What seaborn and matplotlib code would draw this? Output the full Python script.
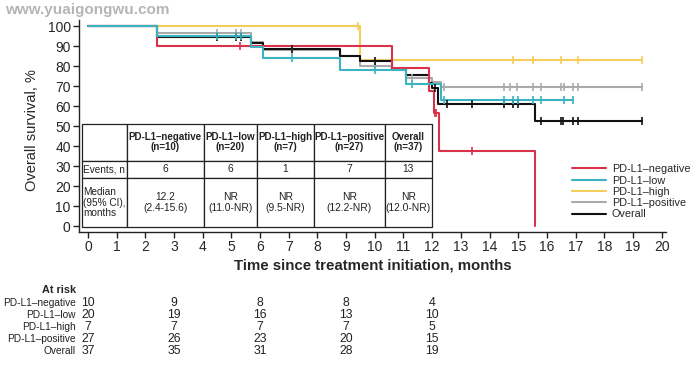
import numpy as np
import pandas as pd
import matplotlib
matplotlib.use('Agg')
import matplotlib.pyplot as plt
import matplotlib.transforms as mtransforms
import seaborn as sns

# Kaplan-Meier steps (time in months, survival in %)
groups = ['PD-L1–negative', 'PD-L1–low', 'PD-L1–high', 'PD-L1–positive', 'Overall']
colors = ['#d9334c', '#3bb3c0', '#f2cf5b', '#aaaaaa', '#111111']

neg_t = [0, 2.4, 10.6, 11.9, 12.05, 12.25, 15.6]
neg_s = [100, 90, 78.8, 67.5, 56.3, 37.5, 0]
neg_end = 15.6
neg_cens = [5.3, 12.1, 12.15, 13.4]

low_t = [0, 2.4, 5.7, 6.1, 8.8, 11.1, 12.3]
low_s = [100, 95, 89.4, 83.8, 78, 71, 63]
low_end = 16.9
low_cens = [4.5, 5.15, 5.35, 7.1, 10.0, 11.3, 12.4, 14.5, 14.8, 15.0, 15.5, 15.8, 16.6, 16.9]

high_t = [0, 9.5]
high_s = [100, 83]
high_end = 19.3
high_cens = [9.4, 14.8, 15.5, 16.5, 17.1, 19.3]

pos_t = [0, 2.4, 5.7, 6.1, 8.8, 9.5, 10.6, 11.1, 12.0, 12.3]
pos_s = [100, 96.3, 92.1, 87.9, 85, 80, 78, 74, 72, 69.5]
pos_end = 19.3
pos_cens = [4.5, 5.15, 5.35, 7.1, 10.0, 11.3, 12.4, 14.5, 14.7, 14.95, 15.5, 15.8,
            16.5, 16.6, 16.9, 17.1, 19.3]

all_t = [0, 2.4, 5.7, 6.1, 8.8, 9.5, 10.6, 11.1, 11.9, 12.0, 12.2, 15.6]
all_s = [100, 94.6, 91.6, 88.7, 85, 82.7, 78.7, 75.7, 71.3, 69, 61, 52.5]
all_end = 19.3
all_cens = [4.5, 5.15, 5.35, 7.1, 10.0, 12.1, 12.5, 13.4, 14.5, 14.8, 15.0, 15.8,
            16.5, 16.55, 16.9, 17.1, 19.3]

# summary table
table_header = ['', 'PD-L1–negative\n(n=10)', 'PD-L1–low\n(n=20)', 'PD-L1–high\n(n=7)',
                'PD-L1–positive\n(n=27)', 'Overall\n(n=37)']
table_events = ['Events, n', '6', '6', '1', '7', '13']
table_median = ['Median\n(95% CI),\nmonths', '12.2\n(2.4-15.6)', 'NR\n(11.0-NR)',
                'NR\n(9.5-NR)', 'NR\n(12.2-NR)', 'NR\n(12.0-NR)']

# numbers at risk
risk_times = [0, 3, 6, 9, 12]
risk_neg = [10, 9, 8, 8, 4]
risk_low = [20, 19, 16, 13, 10]
risk_high = [7, 7, 7, 7, 5]
risk_pos = [27, 26, 23, 20, 15]
risk_all = [37, 35, 31, 28, 19]

curves = {
    'PD-L1–negative': (neg_t, neg_s, neg_end, neg_cens),
    'PD-L1–low': (low_t, low_s, low_end, low_cens),
    'PD-L1–high': (high_t, high_s, high_end, high_cens),
    'PD-L1–positive': (pos_t, pos_s, pos_end, pos_cens),
    'Overall': (all_t, all_s, all_end, all_cens),
}
risk = [risk_neg, risk_low, risk_high, risk_pos, risk_all]


def step_at(t, times, surv):
    i = np.searchsorted(times, t, side='right') - 1
    return surv[max(i, 0)]


rows, cens_rows = [], []
for g, (t, s, end, cens) in curves.items():
    for a, b in zip(list(t) + [end], list(s) + [s[-1]]):
        rows.append((g, a, b))
    for c in cens:
        cens_rows.append((g, c, step_at(c, t, s)))
df = pd.DataFrame(rows, columns=['group', 'time', 'surv'])
cdf = pd.DataFrame(cens_rows, columns=['group', 'time', 'surv'])

sns.set_style('ticks')
plt.rcParams['font.family'] = ['Liberation Sans', 'DejaVu Sans']

fig = plt.figure(figsize=(6.96, 3.66), dpi=100)
ax = fig.add_axes([79 / 696, 1 - 232 / 366, 587 / 696, 212 / 366])

palette = dict(zip(groups, colors))
# teal sits on top, as in the original where it hides the overall curve early on
draw_order = ['PD-L1–high', 'PD-L1–positive', 'Overall', 'PD-L1–negative', 'PD-L1–low']
for g in draw_order:
    sub = df[df.group == g]
    sns.lineplot(data=sub, x='time', y='surv', color=palette[g], drawstyle='steps-post',
                 estimator=None, sort=False, lw=1.5, ax=ax, label=None, zorder=3)
for g in draw_order:
    csub = cdf[cdf.group == g]
    sns.scatterplot(data=csub, x='time', y='surv', color=palette[g], marker='|', s=30,
                    linewidth=1.2, ax=ax, zorder=4, legend=False)

ax.set_xlim(-0.31, 20.15)
ax.set_ylim(-3, 103)
ax.set_xticks(range(0, 21))
ax.set_yticks(range(0, 101, 10))
ax.tick_params(labelsize=10, length=4, width=1, color='#222222', pad=2)
for sp in ['top', 'right']:
    ax.spines[sp].set_visible(False)
for sp in ['left', 'bottom']:
    ax.spines[sp].set_linewidth(1)
    ax.spines[sp].set_color('#222222')
ax.set_xlabel('Time since treatment initiation, months', fontsize=10.8, fontweight='bold',
              labelpad=3)
ax.set_ylabel('Overall survival, %', fontsize=10.5, labelpad=6)
ax.yaxis.set_label_coords(-0.068, 0.48)

# legend
handles = [plt.Line2D([], [], color=palette[g], lw=1.5) for g in groups]
ax.legend(handles, groups, loc='upper left', bbox_to_anchor=(0.83, 0.345), frameon=False,
          fontsize=7.8, handlelength=3.2, handletextpad=0.5, labelspacing=0.12, borderpad=0)

# table inside the plot, edges given in data units
col_edges = [-0.21, 1.36, 4.04, 5.89, 7.87, 10.35, 11.99]
row_edges = [51, 32.7, 23.8, -0.5]
to_axes = ax.transData + ax.transAxes.inverted()
(x0, y0), (x1, y1) = to_axes.transform([(col_edges[0], row_edges[-1]), (col_edges[-1], row_edges[0])])
widths = np.diff(col_edges)
tab = ax.table(cellText=[table_header, table_events, table_median],
               colWidths=list(widths / widths.sum()),
               bbox=[x0, y0, x1 - x0, y1 - y0], cellLoc='center')
tab.auto_set_font_size(False)
heights = -np.diff(row_edges)
for (r, c), cell in tab.get_celld().items():
    cell.set_height(heights[r] / heights.sum())
    cell.set_linewidth(0.9)
    cell.set_edgecolor('#222222')
    cell.PAD = 0.03
    txt = cell.get_text()
    txt.set_fontsize(7.4)
    txt.set_linespacing(1.05)
    txt.set_color('#222222')
    if r == 0:
        txt.set_fontweight('bold')
        txt.set_fontsize(7.0)
    if c == 0:
        cell._loc = 'left'
        txt.set_ha('left')
        txt.set_fontsize(7.2)
tab.set_zorder(5)

# numbers at risk
trans = mtransforms.blended_transform_factory(ax.transData, fig.transFigure)
fig.text(76 / 696, 1 - 290 / 366, 'At risk', ha='right', va='center', fontsize=7.8,
         fontweight='bold')
for k, (g, vals) in enumerate(zip(groups, risk)):
    yy = 1 - (303 + 12 * k) / 366
    fig.text(76 / 696, yy, g, ha='right', va='center', fontsize=7.3, color='#222222')
    for t, v in zip(risk_times, vals):
        ax.text(t, yy, str(v), transform=trans, ha='center', va='center', fontsize=8.8,
                color='#222222', clip_on=False)

fig.text(5 / 696, 1 - 10 / 366, 'www.yuaigongwu.com', ha='left', va='center', fontsize=11,
         fontweight='bold', color='#b5b5b5')

fig.savefig('out.png', dpi=100)
